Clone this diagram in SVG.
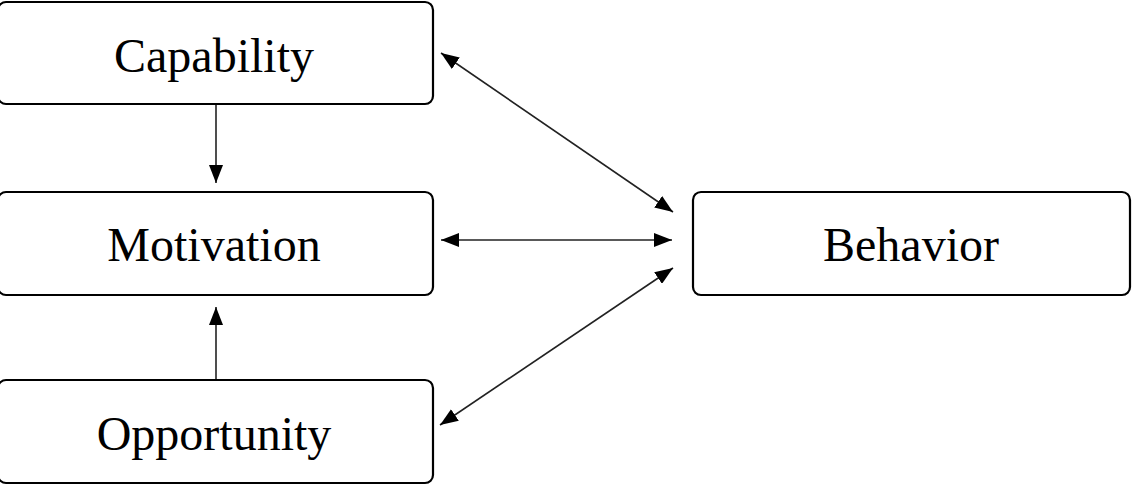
<svg xmlns="http://www.w3.org/2000/svg" width="1137" height="492" viewBox="0 0 1137 492">
<style>
.box{fill:#fff;stroke:#000;stroke-width:2.2}
.lbl{font-family:"Liberation Serif","Times New Roman",serif;font-size:48px;fill:#000;text-anchor:middle}
.con{stroke:#222;stroke-width:1.6;fill:none}
</style>
<defs>
<marker id="ah2" viewBox="0 0 18 14" refX="18" refY="7" markerWidth="18" markerHeight="14" markerUnits="userSpaceOnUse" orient="auto-start-reverse">
<path d="M0,0 L18,7 L0,14 z" fill="#000"/>
</marker>
</defs>
<rect width="1137" height="492" fill="#fff"/>
<g id="capability"><rect class="box" x="-2" y="2" width="435" height="102" rx="8"/><text class="lbl" x="214" y="72">Capability</text></g>
<g id="motivation"><rect class="box" x="-2" y="192" width="435" height="103" rx="8"/><text class="lbl" x="214" y="261">Motivation</text></g>
<g id="opportunity"><rect class="box" x="-2" y="380" width="435" height="103" rx="8"/><text class="lbl" x="214" y="450">Opportunity</text></g>
<g id="behavior"><rect class="box" x="693" y="192" width="437" height="103" rx="8"/><text class="lbl" x="911" y="261">Behavior</text></g>
<g id="connectors">
<line class="con" x1="216" y1="105" x2="216" y2="183" marker-end="url(#ah2)"/>
<line class="con" x1="216" y1="379" x2="216" y2="307" marker-end="url(#ah2)"/>
<line class="con" x1="441" y1="53" x2="673" y2="212" marker-start="url(#ah2)" marker-end="url(#ah2)"/>
<line class="con" x1="441" y1="240" x2="672" y2="240" marker-start="url(#ah2)" marker-end="url(#ah2)"/>
<line class="con" x1="673" y1="268" x2="440" y2="425" marker-start="url(#ah2)" marker-end="url(#ah2)"/>
</g>
</svg>
